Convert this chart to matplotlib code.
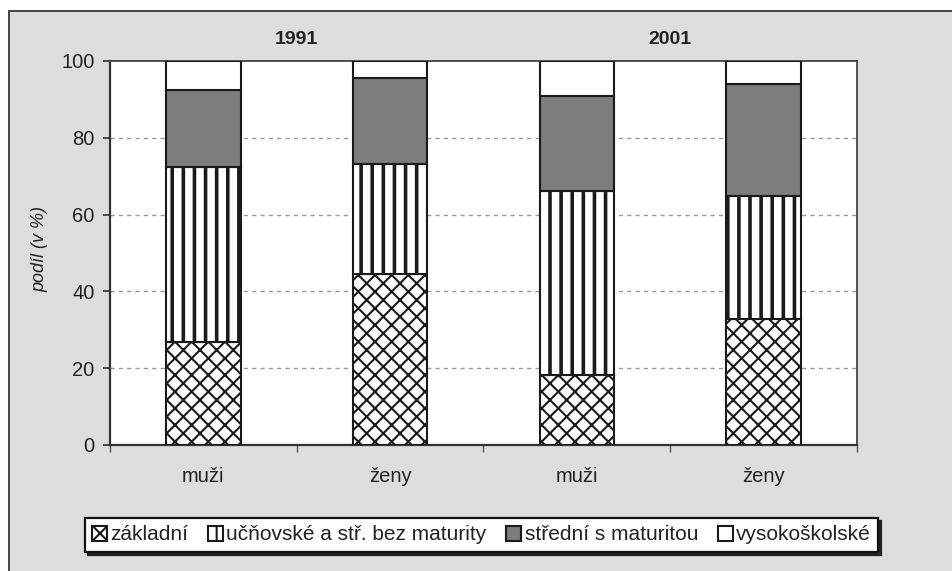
import matplotlib
matplotlib.use("Agg")
import matplotlib.pyplot as plt
import matplotlib.hatch as mhatch
from matplotlib.patches import Rectangle
import matplotlib.transforms as mtransforms
import numpy as np

# ---- data ----
categories = ["muži", "ženy", "muži", "ženy"]
years = ["1991", "2001"]
zakladni = [26.7, 44.5, 18.3, 32.9]
ucnovske = [45.6, 28.8, 47.9, 32.0]
stredni = [20.1, 22.4, 24.7, 29.0]
vysoko = [7.6, 4.3, 9.1, 6.1]
series_names = ["základní", "učňovské a stř. bez maturity",
                "střední s maturitou", "vysokoškolské"]
yticks = [0, 20, 40, 60, 80, 100]


# denser vertical hatch to match reference stripe spacing
class DenseVertical(mhatch.VerticalHatch):
    def __init__(self, hatch, density):
        super().__init__(hatch, density)
        self.num_lines = int(round(hatch.count('|') * density * 1.5))
        self.num_vertices = self.num_lines * 2


mhatch._hatch_types[mhatch._hatch_types.index(mhatch.VerticalHatch)] = DenseVertical

plt.rcParams['font.family'] = ['Liberation Sans', 'DejaVu Sans']
plt.rcParams['hatch.color'] = '#111111'

W, H = 953, 571
fig = plt.figure(figsize=(W / 100, H / 100), dpi=100)
fig.patch.set_facecolor('white')

# grey chart frame (left & top border visible)
frame = Rectangle((9 / W, -0.1), 1.2, (H - 11) / H + 0.1, transform=fig.transFigure,
                  facecolor='#dddddd', edgecolor='#444444', linewidth=1.4, zorder=-10)
fig.patches.append(frame)

left, right, top, bottom = 110, 857, 61, 445
ax = fig.add_axes([left / W, 1 - bottom / H, (right - left) / W, (bottom - top) / H])
ax.set_facecolor('white')

x = np.arange(len(categories))
width = 0.40
edge = '#1a1a1a'

styles = [
    dict(color='white', hatch='xx', hlw=1.5),
    dict(color='white', hatch='|', hlw=2.6),
    dict(color='#7d7d7d', hatch=None, hlw=1.0),
    dict(color='white', hatch=None, hlw=1.0),
]
values = [zakladni, ucnovske, stredni, vysoko]
bottoms = np.zeros(len(categories))
containers = []
for vals, st, name in zip(values, styles, series_names):
    with plt.rc_context({'hatch.linewidth': st['hlw']}):
        bc = ax.bar(x, vals, width, bottom=bottoms, color=st['color'], hatch=st['hatch'],
                    edgecolor=edge, linewidth=1.5, label=name, zorder=3)
        for p in bc.patches:
            if hasattr(p, 'set_hatch_linewidth'):
                p.set_hatch_linewidth(st['hlw'])
    containers.append(bc)
    bottoms = bottoms + np.array(vals)

ax.set_xlim(-0.5, len(categories) - 0.5)
ax.set_ylim(0, 100)
ax.set_yticks(yticks)
ax.set_yticklabels([str(t) for t in yticks], fontsize=14.5, color='#222222')
ax.tick_params(axis='y', length=5, width=1.2, color='#333333', pad=6)

ax.set_xticks(x)
ax.set_xticklabels(categories, fontsize=14.5, color='#222222')
ax.tick_params(axis='x', which='major', length=0, pad=16)
ax.set_xticks(np.arange(-0.5, len(categories)), minor=True)
ax.tick_params(axis='x', which='minor', length=5, width=1.0, color='#555555')

for yv in yticks[1:-1]:
    ax.axhline(yv, color='#999999', linewidth=1.0, linestyle=(0, (3, 3)), zorder=1)

for s in ['left', 'bottom']:
    ax.spines[s].set_color('#333333')
    ax.spines[s].set_linewidth(1.6)
for s in ['top', 'right']:
    ax.spines[s].set_color('#444444')
    ax.spines[s].set_linewidth(1.3)

ax.set_ylabel('podíl (v %)', fontsize=13, fontstyle='italic', color='#222222')
ax.yaxis.set_label_coords(-0.083, 0.51)

trans = mtransforms.blended_transform_factory(ax.transData, ax.transAxes)
for i, yr in enumerate(years):
    ax.text(2 * i + 0.5, 1.057, yr, transform=trans, ha='center', va='center',
            fontsize=14, fontweight='bold', color='#222222')

with plt.rc_context({'hatch.linewidth': 1.5}):
    leg = fig.legend(handles=containers, labels=series_names, ncol=4,
                     loc='center', bbox_to_anchor=(481.5 / W, 1 - 535 / H),
                     fontsize=15, frameon=True, fancybox=False,
                     shadow={'color': '#222222', 'alpha': 1},
                     handlelength=0.72, handleheight=0.72, handletextpad=0.15,
                     columnspacing=0.95, borderpad=0.35, borderaxespad=0)
leg.get_frame().set_edgecolor('#111111')
leg.get_frame().set_linewidth(1.6)
leg.get_frame().set_facecolor('white')
for t in leg.get_texts():
    t.set_color('#222222')

fig.savefig('out.png', dpi=100, facecolor=fig.get_facecolor())
